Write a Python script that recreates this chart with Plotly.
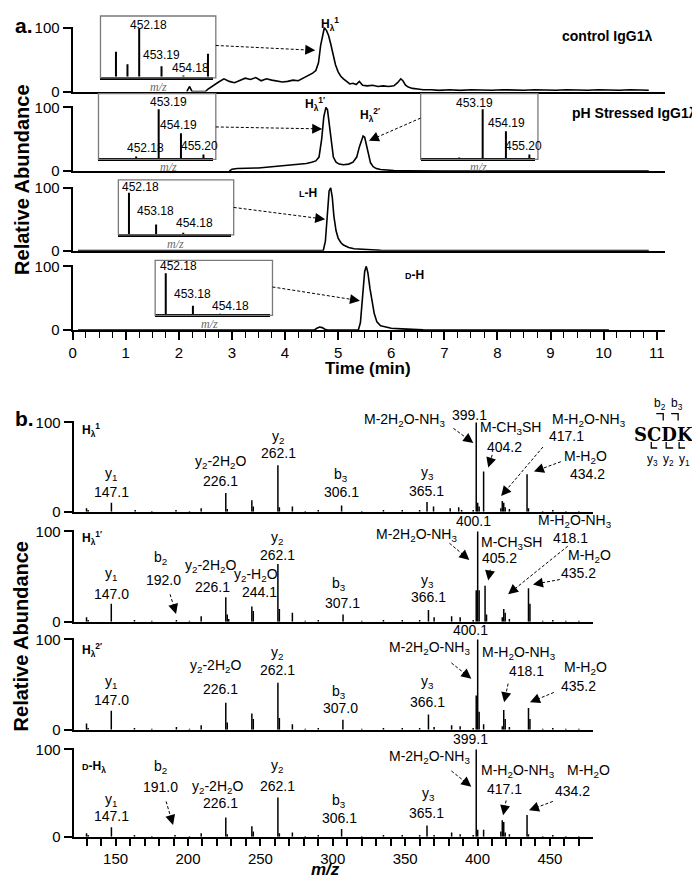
import plotly.graph_objects as go

# the page body keeps its default 8 px margin, so the figure sits at (8, 8)
# and is sized to end at the window edge; all positions below are window pixels
OX, OY = 8, 8
FW, FH = 692, 878
FONT = "Arial, Liberation Sans, sans-serif"

# ---------- panel a: extracted ion chromatograms (time in min, relative abundance) ----------
t_ctrl = [2.15, 2.2, 2.25, 2.5, 2.55, 2.65, 2.75, 2.85, 2.95, 3.05, 3.15, 3.25, 3.35, 3.45, 3.55,
          3.65, 3.75, 3.85, 3.95, 4.05, 4.15, 4.25, 4.35, 4.45, 4.52, 4.58, 4.63, 4.67, 4.71, 4.74,
          4.78, 4.82, 4.86, 4.9, 4.95, 5.0, 5.05, 5.1, 5.16, 5.22, 5.28, 5.34, 5.4, 5.46, 5.55,
          5.65, 5.75, 5.85, 5.95, 6.05, 6.12, 6.18, 6.22, 6.27, 6.32, 6.4, 6.5, 6.6, 6.75, 6.9,
          7.1, 7.3, 7.5, 7.7, 7.9, 8.1, 8.3, 8.5, 8.7, 8.9, 9.1, 9.3, 9.5, 9.7, 9.9, 10.1, 10.3,
          10.5, 10.7, 10.85]
i_ctrl = [0, 8, 0, 0, 4, 10, 15, 20, 16, 14, 18, 21, 19, 22, 17, 20, 18, 17, 15, 16, 18, 17, 21,
          25, 29, 33, 45, 72, 92, 100, 96, 88, 75, 58, 42, 31, 24, 20, 16, 12, 13, 11, 16, 10, 9,
          10, 8, 9, 8, 9, 14, 20, 17, 10, 7, 5, 4, 3, 3, 2, 3, 2, 3, 2, 2, 3, 2, 2, 3, 2, 2, 3, 2,
          2, 3, 2, 2, 3, 2, 2]

t_ph = [2.95, 3.0, 3.1, 3.2, 3.35, 3.5, 3.65, 3.8, 3.95, 4.1, 4.25, 4.4, 4.5, 4.58, 4.64, 4.69,
        4.73, 4.77, 4.8, 4.83, 4.87, 4.91, 4.96, 5.02, 5.1, 5.2, 5.28, 5.35, 5.4, 5.44, 5.47, 5.5,
        5.53, 5.57, 5.61, 5.66, 5.72, 5.8, 5.9, 6.05, 6.3, 6.6, 7.0, 10.85]
i_ph = [0, 3, 4, 4, 5, 5, 6, 7, 8, 9, 10, 12, 14, 16, 22, 50, 85, 100, 96, 75, 42, 22, 14, 11,
        10, 11, 14, 22, 38, 50, 55, 53, 42, 25, 13, 7, 4, 2.5, 1.5, 1, 0.5, 0.3, 0, 0]

t_lh = [0.1, 4.72, 4.76, 4.8, 4.83, 4.86, 4.89, 4.92, 4.96, 5.0, 5.05, 5.1, 5.2, 5.3, 5.45, 5.6,
        5.8, 6.1, 10.85]
i_lh = [0, 0, 15, 65, 95, 100, 85, 55, 32, 20, 13, 9, 5, 3, 2, 1, 0.5, 0, 0]

t_dh = [0.1, 4.55, 4.6, 4.65, 4.7, 4.75, 4.82, 5.38, 5.42, 5.46, 5.5, 5.53, 5.56, 5.6, 5.64,
        5.68, 5.73, 5.8, 5.9, 6.0, 6.2, 6.4, 6.6, 7.0, 10.1]
i_dh = [0, 0, 3, 5, 4, 1.5, 0, 0, 12, 55, 92, 100, 90, 65, 43, 26, 13, 7, 5, 3, 2, 1, 0.5, 0, 0]

# inset isotope spectra (m/z, relative intensity)
ins1_mz = [451.13, 451.65, 452.18, 453.19, 454.18, 455.29]
ins1_int = [52, 26, 100, 22, 3, 48]
ins2_mz = [452.18, 453.19, 454.19, 455.20]
ins2_int = [4, 100, 51, 8]
ins3_mz = [452.18, 453.19, 454.19, 455.20]
ins3_int = [2, 100, 55, 8]
ins4_mz = [452.18, 453.18, 454.18]
ins4_int = [100, 23, 3]
ins5_mz = [452.18, 453.18, 454.18, 455.54]
ins5_int = [100, 21, 2, 1]

# ---------- panel b: MS/MS spectra ----------
mz1 = [129.9, 131.0, 147.1, 163.5, 175.0, 191.7, 201.0, 209.1, 226.1, 227.1, 244.1, 245.1, 262.1,
       263.1, 272.1, 281.0, 290.0, 306.1, 320.0, 335.0, 348.0, 360.0, 365.1, 369.6, 381.1, 387.0,
       389.0, 397.0, 399.1, 400.1, 401.1, 404.2, 416.1, 417.1, 418.1, 419.1, 422.0, 434.2, 435.2,
       445.0, 452.0, 461.0, 470.0]
int1 = [4, 2, 10, 2, 1, 2, 1, 4, 21, 3, 13, 6, 52, 5, 6, 1, 2, 7, 1, 2, 2, 2, 11, 6, 4, 5, 2, 2,
        100, 10, 6, 45, 4, 12, 10, 5, 3, 42, 4, 1, 2, 1, 1]
mz2 = [129.9, 131.0, 147.0, 163.0, 175.0, 192.0, 201.0, 209.1, 226.1, 227.1, 228.1, 244.1, 245.1,
       262.1, 263.1, 272.1, 281.0, 290.0, 307.1, 320.0, 335.0, 348.0, 360.0, 366.1, 370.0, 382.1,
       388.0, 397.0, 399.1, 400.1, 401.1, 405.2, 406.2, 417.1, 418.1, 419.1, 422.0, 435.2, 436.2,
       445.0, 452.0, 461.0, 470.0]
int2 = [5, 2, 20, 2, 1, 2, 1, 6, 27, 8, 3, 17, 12, 64, 14, 10, 1, 2, 8, 1, 2, 2, 2, 13, 5, 6, 5,
        2, 35, 100, 35, 40, 8, 5, 14, 10, 3, 37, 20, 1, 2, 1, 1]
mz3 = [129.9, 131.0, 147.0, 163.0, 175.0, 192.0, 201.0, 209.1, 226.1, 227.1, 244.1, 245.1, 262.1,
       263.1, 272.1, 281.0, 290.0, 307.0, 320.0, 335.0, 348.0, 360.0, 366.1, 370.0, 382.1, 388.0,
       397.0, 399.1, 400.1, 401.1, 404.2, 417.1, 418.1, 419.1, 422.0, 435.2, 436.2, 445.0, 452.0,
       461.0, 470.0]
int3 = [7, 2, 21, 2, 1, 3, 1, 5, 30, 8, 18, 12, 52, 13, 6, 1, 2, 11, 1, 2, 2, 2, 17, 3, 5, 4, 2,
        38, 100, 20, 6, 4, 22, 12, 3, 24, 12, 1, 2, 1, 1]
mz4 = [129.9, 131.0, 147.1, 163.0, 175.0, 191.0, 201.0, 209.1, 226.1, 227.1, 244.1, 245.1, 262.1,
       263.1, 272.1, 281.0, 290.0, 306.1, 320.0, 335.0, 348.0, 360.0, 365.1, 370.0, 382.1, 388.0,
       397.0, 399.1, 400.1, 404.2, 416.1, 417.1, 418.1, 419.1, 422.0, 434.2, 435.2, 445.0, 452.0,
       461.0, 470.0]
int4 = [4, 2, 11, 2, 1, 2, 1, 4, 22, 3, 12, 6, 45, 4, 5, 1, 2, 9, 1, 2, 2, 2, 13, 2, 5, 3, 2, 100,
        8, 8, 6, 19, 17, 5, 3, 25, 3, 1, 2, 1, 1]


def px(x):
    return (x - OX) / FW


def py(y):
    return 1 - (y - OY) / FH


def sticks(mz, inten):
    xs, ys = [], []
    for m, v in zip(mz, inten):
        xs += [m, m, None]
        ys += [0, v, None]
    return xs, ys


fig = go.Figure()
layout = {}

# panel a rows: (pixel of 100, pixel of 0)
rows_a = [(20, 85), (101, 166), (183, 247), (263, 328)]
chroms = [(t_ctrl, i_ctrl), (t_ph, i_ph), (t_lh, i_lh), (t_dh, i_dh)]
# panel b rows
rows_b = [(422, 513), (533, 625), (643, 735), (755, 844)]
spectra = [(mz1, int1), (mz2, int2), (mz3, int3), (mz4, int4)]

tickfont = dict(family=FONT, size=15, color="black")


def y_axis(y100, y0, anchor):
    s = (y0 - y100) / 100
    return dict(domain=[py(y0), py(y0 - 101.5 * s)], range=[0, 101.5], anchor=anchor,
                showline=True, linewidth=2, linecolor="black", tickvals=[0, 100],
                ticks="outside", ticklen=8, tickwidth=1.5, tickcolor="black",
                showgrid=False, zeroline=False, tickfont=tickfont)


for k, ((y100, y0), (t, v)) in enumerate(zip(rows_a, chroms)):
    n = k + 1
    last = k == 3
    xa = dict(domain=[px(69), px(665)], range=[0, 11.16], anchor=f"y{n}", showline=True,
              linewidth=2, linecolor="black", showgrid=False, zeroline=False,
              showticklabels=last, ticks="outside" if last else "", dtick=1,
              ticklen=8, tickwidth=1.5, tickcolor="black", tickfont=tickfont)
    if last:
        xa["minor"] = dict(dtick=0.25, ticks="outside", ticklen=6, tickwidth=1.2,
                           tickcolor="black", showgrid=False)
    layout[f"xaxis{n}"] = xa
    layout[f"yaxis{n}"] = y_axis(y100, y0, f"x{n}")
    fig.add_trace(go.Scatter(x=t, y=v, mode="lines", line=dict(color="black", width=1.6),
                             xaxis=f"x{n}", yaxis=f"y{n}", showlegend=False))

for k, ((y100, y0), (mz, v)) in enumerate(zip(rows_b, spectra)):
    n = k + 5
    last = k == 3
    xa = dict(domain=[px(70), px(592)], range=[121, 479.5], anchor=f"y{n}", showline=True,
              linewidth=2, linecolor="black", showgrid=False, zeroline=False,
              showticklabels=last, ticks="outside" if last else "", tick0=150, dtick=50,
              ticklen=7, tickwidth=1.5, tickcolor="black", tickfont=tickfont)
    if last:
        xa["minor"] = dict(dtick=10, tick0=150, ticks="outside", ticklen=7, tickwidth=1.5,
                           tickcolor="black", showgrid=False)
    layout[f"xaxis{n}"] = xa
    layout[f"yaxis{n}"] = y_axis(y100, y0, f"x{n}")
    xs, ys = sticks(mz, v)
    fig.add_trace(go.Scatter(x=xs, y=ys, mode="lines", line=dict(color="black", width=1.5),
                             xaxis=f"x{n}", yaxis=f"y{n}", showlegend=False))

# insets: box (l, t, r, b), pixel of 100, m/z range
insets = [
    ((97, 8, 213, 71), 21, (450.43, 455.51), ins1_mz, ins1_int),
    ((95, 87, 213, 154), 103, (450.49, 455.62), ins2_mz, ins2_int),
    ((419, 87, 537, 154), 103, (450.52, 455.44), ins3_mz, ins3_int),
    ((115, 175, 231, 231), 188, (451.79, 455.93), ins4_mz, ins4_int),
    ((152, 257, 270, 313), 270, (451.79, 456.0), ins5_mz, ins5_int),
]
shapes = []
for k, ((l, t, r, b), y100, rng, mz, v) in enumerate(insets):
    n = k + 9
    base = b - 1
    s = (base - y100) / 100
    layout[f"xaxis{n}"] = dict(domain=[px(l), px(r - 3)], range=list(rng), anchor=f"y{n}",
                               showline=True, linewidth=2.5, linecolor="black", showgrid=False,
                               zeroline=False, showticklabels=False, ticks="")
    layout[f"yaxis{n}"] = dict(domain=[py(base), py(base - 104 * s)], range=[0, 104],
                               anchor=f"x{n}", visible=False)
    xs, ys = sticks(mz, v)
    fig.add_trace(go.Scatter(x=xs, y=ys, mode="lines", line=dict(color="black", width=2),
                             xaxis=f"x{n}", yaxis=f"y{n}", showlegend=False))
    shapes.append(dict(type="rect", xref="paper", yref="paper", x0=px(l), x1=px(r),
                       y0=py(b), y1=py(t), line=dict(color="#7a7a7a", width=1.3)))

annotations = []


def txt(s, x, y, size=14, xanchor="center", color="black", family=FONT, angle=0):
    annotations.append(dict(text=s, x=px(x), y=py(y), xref="paper", yref="paper",
                            xanchor=xanchor, yanchor="middle", showarrow=False,
                            textangle=angle, font=dict(family=family, size=size, color=color)))


def arrow(x0, y0, x1, y1):
    dx, dy = x1 - x0, y1 - y0
    ln = (dx * dx + dy * dy) ** 0.5
    ux, uy = dx / ln, dy / ln
    hl = 8
    shapes.append(dict(type="line", xref="paper", yref="paper", x0=px(x0), y0=py(y0),
                       x1=px(x1 - ux * hl), y1=py(y1 - uy * hl),
                       line=dict(color="black", width=1, dash="3px,2px")))
    annotations.append(dict(text="", x=px(x1), y=py(y1), xref="paper", yref="paper",
                            ax=-ux * hl, ay=-uy * hl, showarrow=True, arrowhead=2,
                            arrowsize=2, arrowwidth=1, arrowcolor="black", standoff=0))


# panel a texts
txt("<b>a.</b>", 9, 18, size=21, xanchor="left")
txt("<b>Relative Abundance</b>", 18, 175, size=20, angle=-90)
txt("<b>Time (min)</b>", 366, 367, size=17)
txt("<b>control IgG1λ</b>", 606, 28, size=14)
txt("<b>pH Stressed IgG1λ</b>", 699, 107, size=14, xanchor="right")
txt("<b>H<sub>λ</sub><sup>1</sup></b>", 328, 16, size=12)
txt("<b>H<sub>λ</sub><sup>1′</sup></b>", 313, 98, size=12)
txt("<b>H<sub>λ</sub><sup>2′</sup></b>", 368, 109, size=12)
txt("<b><span style='font-size:9px'>L</span>-H</b>", 306, 188, size=12)
txt("<b><span style='font-size:9px'>D</span>-H</b>", 413, 272, size=12)

inset_labels = [
    ("452.18", 145, 17), ("453.19", 158, 48), ("454.18", 188, 61),
    ("453.19", 165, 96), ("454.19", 175, 119), ("452.18", 142, 142), ("455.20", 197, 140),
    ("453.19", 473, 97), ("454.19", 505, 117), ("455.20", 522, 140),
    ("452.18", 137, 182), ("453.18", 152, 207), ("454.18", 192, 219),
    ("452.18", 175, 263), ("453.18", 190, 291), ("454.18", 228, 303),
]
for s, x, y in inset_labels:
    txt(s, x, y, size=12)
for x, y in [(155, 80), (165, 162), (477, 162), (172, 240), (207, 322)]:
    txt("<i>m/z</i>", x, y, size=12, color="#6a6a6a", family="Liberation Serif, serif")

for a in [(213, 38, 313, 43), (213, 121, 320, 123), (419, 112, 367, 135),
          (231, 203, 323, 215), (270, 284, 358, 298)]:
    arrow(*a)

# panel b texts
txt("<b>b.</b>", 9, 418, size=21, xanchor="left")
txt("<b>Relative Abundance</b>", 18, 640, size=20, angle=-90)
txt("<b><i>m/z</i></b>", 323, 877, size=17)
txt("<b>H<sub>λ</sub><sup>1</sup></b>", 76, 430, size=12, xanchor="left")
txt("<b>H<sub>λ</sub><sup>1′</sup></b>", 76, 540, size=12, xanchor="left")
txt("<b>H<sub>λ</sub><sup>2′</sup></b>", 76, 654, size=12, xanchor="left")
txt("<b><span style='font-size:9px'>D</span>-H<sub>λ</sub></b>", 76, 773, size=12,
    xanchor="left")

M2 = "M-2H<sub>2</sub>O-NH<sub>3</sub>"
M1 = "M-H<sub>2</sub>O-NH<sub>3</sub>"
MW = "M-H<sub>2</sub>O"
Y22 = "y<sub>2</sub>-2H<sub>2</sub>O"
peak_labels = [
    # row 1
    ("y<sub>1</sub>", 108, 474), ("147.1", 108, 493), (Y22, 218, 462), ("226.1", 218, 482),
    ("y<sub>2</sub>", 276, 437), ("262.1", 276, 453), ("b<sub>3</sub>", 339, 476),
    ("306.1", 339, 493), ("y<sub>3</sub>", 426, 473), ("365.1", 425, 492),
    (M2, 403, 420), ("399.1", 468, 414), ("M-CH<sub>3</sub>SH", 509, 428), ("404.2", 503, 447),
    (M1, 588, 420), ("417.1", 566, 436), (MW, 585, 457), ("434.2", 587, 475),
    # row 2
    ("y<sub>1</sub>", 108, 576), ("147.0", 108, 597), ("b<sub>2</sub>", 157, 560),
    ("192.0", 160, 582), (Y22, 208, 568), ("226.1", 210, 590),
    ("y<sub>2</sub>-H<sub>2</sub>O", 253, 577), ("244.1", 257, 595),
    ("y<sub>2</sub>", 275, 540), ("262.1", 275, 557), ("b<sub>3</sub>", 337, 587),
    ("307.1", 340, 606), ("y<sub>3</sub>", 426, 583), ("366.1", 427, 600),
    ("400.1", 472, 522), (M2, 415, 537), ("M-CH<sub>3</sub>SH", 510, 545), ("405.2", 498, 560),
    (M1, 574, 522), ("418.1", 570, 540), (MW, 589, 558), ("435.2", 578, 575),
    # row 3
    ("y<sub>1</sub>", 108, 686), ("147.0", 108, 705), (Y22, 213, 670), ("226.1", 218, 693),
    ("y<sub>2</sub>", 275, 657), ("262.1", 275, 674), ("b<sub>3</sub>", 337, 697),
    ("307.0", 338, 713), ("y<sub>3</sub>", 426, 686), ("366.1", 426, 707),
    ("400.1", 469, 633), (M2, 428, 652), (M1, 518, 657), ("418.1", 525, 675),
    (MW, 585, 672), ("435.2", 578, 690),
    # row 4
    ("b<sub>2</sub>", 157, 773), ("191.0", 157, 793), ("y<sub>1</sub>", 108, 807),
    ("147.1", 108, 823), (Y22, 215, 793), ("226.1", 218, 810), ("y<sub>2</sub>", 275, 772),
    ("262.1", 275, 792), ("b<sub>3</sub>", 337, 808), ("306.1", 337, 825),
    ("y<sub>3</sub>", 427, 800), ("365.1", 425, 820), ("399.1", 469, 744), (M2, 428, 763),
    (M1, 517, 777), ("417.1", 503, 795), (MW, 588, 777), ("434.2", 572, 797),
]
for s, x, y in peak_labels:
    txt(s, x, y, size=14)

for a in [(452, 428, 472, 443), (491, 455, 487, 468), (542, 447, 500, 497), (560, 462, 533, 472),
          (167, 597, 173, 617), (448, 545, 468, 562), (489, 572, 487, 583), (567, 548, 507, 597),
          (559, 582, 532, 587),
          (450, 667, 470, 683), (507, 688, 503, 707), (553, 697, 529, 707),
          (163, 808, 170, 832), (450, 777, 470, 793), (505, 807, 502, 822), (552, 808, 528, 817)]:
    arrow(*a)

# SCDK fragment map
txt("<b>SCDK</b>", 664, 434, size=18, family="DejaVu Serif, serif")
txt("b<sub>2</sub>", 660, 403, size=12)
txt("b<sub>3</sub>", 677, 403, size=12)
txt("y<sub>3</sub>", 652, 460, size=12)
txt("y<sub>2</sub>", 668, 460, size=12)
txt("y<sub>1</sub>", 684, 460, size=12)
for path in [[(656, 413), (663, 413), (663, 420)], [(671, 413), (678, 413), (678, 420)],
             [(651, 442), (651, 448), (657, 448)], [(666, 442), (666, 448), (673, 448)],
             [(679, 442), (679, 448), (685, 448)]]:
    d = "M " + " L ".join(f"{px(x)},{py(y)}" for x, y in path)
    shapes.append(dict(type="path", xref="paper", yref="paper", path=d,
                       line=dict(color="black", width=1.3)))

fig.update_layout(**layout)
fig.update_layout(width=FW, height=FH, margin=dict(l=0, r=0, t=0, b=0),
                  plot_bgcolor="white", paper_bgcolor="white", showlegend=False,
                  font=dict(family=FONT, color="black"),
                  shapes=shapes, annotations=annotations)
fig.write_html("out.html")
